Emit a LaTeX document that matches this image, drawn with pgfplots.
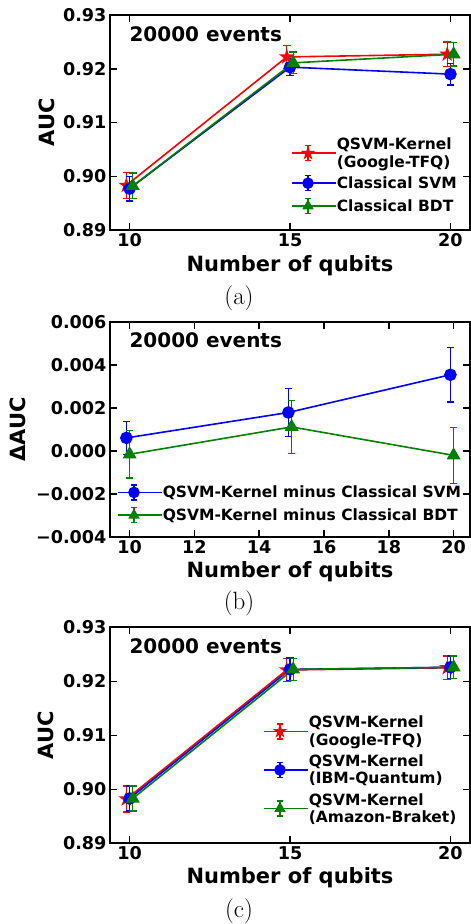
\documentclass[border=0pt]{standalone}
\usepackage{fontspec}
\setmainfont{DejaVu Sans}
\usepackage{pgfplots}
\pgfplotsset{compat=1.18}

\pgfdeclareplotmark{fstar}{%
  \pgfpathmoveto{\pgfpointpolar{90}{\pgfplotmarksize}}%
  \pgfpathlineto{\pgfpointpolar{126}{0.382\pgfplotmarksize}}%
  \pgfpathlineto{\pgfpointpolar{162}{\pgfplotmarksize}}%
  \pgfpathlineto{\pgfpointpolar{198}{0.382\pgfplotmarksize}}%
  \pgfpathlineto{\pgfpointpolar{234}{\pgfplotmarksize}}%
  \pgfpathlineto{\pgfpointpolar{270}{0.382\pgfplotmarksize}}%
  \pgfpathlineto{\pgfpointpolar{306}{\pgfplotmarksize}}%
  \pgfpathlineto{\pgfpointpolar{342}{0.382\pgfplotmarksize}}%
  \pgfpathlineto{\pgfpointpolar{18}{\pgfplotmarksize}}%
  \pgfpathlineto{\pgfpointpolar{54}{0.382\pgfplotmarksize}}%
  \pgfpathclose
  \pgfusepathqfillstroke
}

\definecolor{mplgreen}{RGB}{0,128,0}

\pgfplotsset{
  myaxis/.style={
    scale only axis, width=360pt,
    axis line style={line width=2pt},
    tick align=inside,
    major tick length=7pt,
    tick style={black, line width=1.5pt},
    ticklabel style={font=\fontsize{17.6}{20}\selectfont\bfseries},
    /pgf/number format/assume math mode=true,
    scaled y ticks=false,
    label style={font=\fontsize{21}{25}\selectfont\bfseries},
    legend style={draw=none, fill=none, font=\fontsize{15.5}{17.3}\selectfont\bfseries, cells={align=left}, row sep=7pt, inner sep=0pt, nodes={inner sep=0pt}},
    legend cell align=left,
    legend image code/.code={
      \path (0pt,0pt) -- (44pt,0pt);
      \draw[##1, mark=none] (0pt,0pt) -- (32pt,0pt);
      \draw[##1, mark=none, line width=1.3pt] (16pt,-7.5pt) -- (16pt,7.5pt) (13pt,-7.5pt) -- (19pt,-7.5pt) (13pt,7.5pt) -- (19pt,7.5pt);
      \draw[##1, mark size=5pt] plot coordinates {(16pt,0pt)};
    },
  },
  ser/.style={#1, line width=1.6pt, mark options={solid, fill=#1},
    /pgfplots/error bars/y dir=both, /pgfplots/error bars/y explicit,
    /pgfplots/error bars/error bar style={line width=1.3pt, #1},
    /pgfplots/error bars/error mark options={rotate=90, mark size=3.8pt, line width=1.3pt, #1}},
}

\begin{document}
\begin{tikzpicture}
\useasboundingbox (0,0) rectangle (471pt,-924pt);

% ---------------- (a)
\begin{axis}[myaxis, height=215pt, at={(110pt,-230pt)}, anchor=south west,
  xmin=9.39, xmax=20.61, ymin=0.89, ymax=0.93,
  xtick={10,15,20}, ytick={0.89,0.90,0.91,0.92,0.93},
  yticklabels={0.89,0.90,0.91,0.92,0.93},
  xlabel={Number of qubits}, ylabel={AUC},
  x label style={at={(axis description cs:0.5,-0.194)}, anchor=base},
  y label style={at={(axis description cs:-0.176,0.5)}, anchor=center},
  legend style={at={(0.5028,0.429)}, anchor=north west, row sep=6.5pt}]
\addplot[ser=red, mark=fstar, mark size=5.8pt] table[x=x, y=y, y error=e] {
x y e
9.9 0.8983 0.0024
14.9 0.9222 0.0021
19.9 0.9227 0.0023
};
\addlegendentry{QSVM-Kernel\\(Google-TFQ)}
\addplot[ser=blue, mark=*, mark size=5.5pt] table[x=x, y=y, y error=e] {
x y e
10 0.8977 0.0023
15 0.9203 0.0015
20 0.9190 0.0020
};
\addlegendentry{Classical SVM}
\addplot[ser=mplgreen, mark=triangle*, mark size=6.5pt] table[x=x, y=y, y error=e] {
x y e
10.1 0.8982 0.0024
15.1 0.9211 0.0020
20.1 0.9227 0.0022
};
\addlegendentry{Classical BDT}
\node[anchor=base west, inner sep=0pt, font=\fontsize{20}{24}\selectfont\bfseries] at (rel axis cs:0.0537,0.879) {20000 events};
\end{axis}
\node[font=\fontfamily{lmr}\fontsize{25}{29}\selectfont] at (239pt,-298.3pt) {(a)};

% ---------------- (b)
\begin{axis}[myaxis, height=215.6pt, at={(110pt,-537.3pt)}, anchor=south west,
  xmin=9.395, xmax=20.505, ymin=-0.004, ymax=0.006,
  xtick={10,12,14,16,18,20}, ytick={-0.004,-0.002,0,0.002,0.004,0.006},
  yticklabels={−0.004,−0.002,0.000,0.002,0.004,0.006},
  xlabel={Number of qubits}, ylabel={ΔAUC},
  x label style={at={(axis description cs:0.5,-0.187)}, anchor=base},
  y label style={at={(axis description cs:-0.255,0.5)}, anchor=center},
  legend style={at={(0.0194,0.247)}, anchor=north west, row sep=6.5pt}]
\addplot[ser=blue, mark=*, mark size=5.5pt] table[x=x, y=y, y error=e] {
x y e
9.9 0.00061 0.00077
14.9 0.00179 0.00110
19.9 0.00354 0.00126
};
\addlegendentry{QSVM-Kernel minus Classical SVM}
\addplot[ser=mplgreen, mark=triangle*, mark size=6.5pt] table[x=x, y=y, y error=e] {
x y e
10 -0.00015 0.00110
15 0.00112 0.00122
20 -0.00020 0.00130
};
\addlegendentry{QSVM-Kernel minus Classical BDT}
\node[anchor=base west, inner sep=0pt, font=\fontsize{20}{24}\selectfont\bfseries] at (rel axis cs:0.0537,0.881) {20000 events};
\end{axis}
\node[font=\fontfamily{lmr}\fontsize{25}{29}\selectfont] at (239pt,-603.3pt) {(b)};

% ---------------- (c)
\begin{axis}[myaxis, height=216pt, at={(110pt,-843.3pt)}, anchor=south west,
  xmin=9.39, xmax=20.61, ymin=0.89, ymax=0.93,
  xtick={10,15,20}, ytick={0.89,0.90,0.91,0.92,0.93},
  yticklabels={0.89,0.90,0.91,0.92,0.93},
  xlabel={Number of qubits}, ylabel={AUC},
  x label style={at={(axis description cs:0.5,-0.188)}, anchor=base},
  y label style={at={(axis description cs:-0.177,0.5)}, anchor=center},
  legend style={at={(0.425,0.590)}, anchor=north west, row sep=8pt}]
\addplot[ser=red, mark=fstar, mark size=5.8pt] table[x=x, y=y, y error=e] {
x y e
9.9 0.8982 0.0024
14.9 0.9221 0.0021
19.9 0.9225 0.0022
};
\addlegendentry{QSVM-Kernel\\(Google-TFQ)}
\addplot[ser=blue, mark=*, mark size=5.5pt] table[x=x, y=y, y error=e] {
x y e
10 0.8983 0.0023
15 0.9222 0.0021
20 0.9226 0.0021
};
\addlegendentry{QSVM-Kernel\\(IBM-Quantum)}
\addplot[ser=mplgreen, mark=triangle*, mark size=6.5pt] table[x=x, y=y, y error=e] {
x y e
10.1 0.8983 0.0023
15.1 0.9222 0.0020
20.1 0.9226 0.0021
};
\addlegendentry{QSVM-Kernel\\(Amazon-Braket)}
\node[anchor=base west, inner sep=0pt, font=\fontsize{20}{24}\selectfont\bfseries] at (rel axis cs:0.0537,0.880) {20000 events};
\end{axis}
\node[font=\fontfamily{lmr}\fontsize{25}{29}\selectfont] at (239pt,-911pt) {(c)};
\end{tikzpicture}
\end{document}
